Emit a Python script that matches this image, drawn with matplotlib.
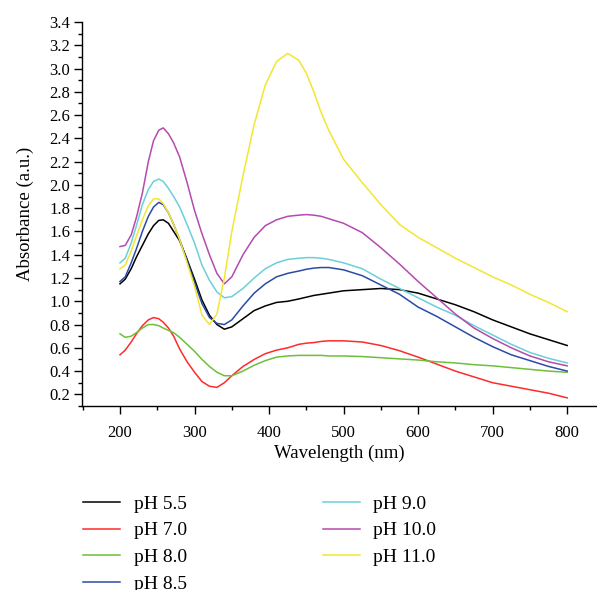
import matplotlib
matplotlib.use("Agg")
import matplotlib.pyplot as plt
from matplotlib.ticker import MultipleLocator

plt.rcParams['font.family'] = ['Liberation Serif', 'DejaVu Serif']

wavelength = [200, 207, 215, 222, 230, 238, 245, 252, 258, 265, 272, 280, 290, 300,
              310, 320, 330, 340, 350, 365, 380, 395, 410, 425, 440, 450, 460, 470, 480, 500,
              525, 550, 575, 600, 625, 650, 675, 700, 725, 750, 775, 800]

ph_5_5 = [1.15, 1.19, 1.28, 1.38, 1.48, 1.58, 1.65, 1.695, 1.70, 1.67, 1.60, 1.52, 1.36, 1.19,
          1.01, 0.88, 0.80, 0.76, 0.78, 0.85, 0.92, 0.96, 0.99, 1.00, 1.02, 1.035, 1.05, 1.06, 1.07, 1.09,
          1.10, 1.11, 1.10, 1.07, 1.02, 0.97, 0.91, 0.84, 0.78, 0.72, 0.67, 0.62]
ph_7_0 = [0.54, 0.58, 0.65, 0.72, 0.79, 0.84, 0.86, 0.85, 0.82, 0.77, 0.70, 0.59, 0.48, 0.39,
          0.31, 0.27, 0.26, 0.30, 0.36, 0.44, 0.50, 0.55, 0.58, 0.60, 0.63, 0.64, 0.645, 0.655, 0.66, 0.66,
          0.65, 0.62, 0.575, 0.52, 0.46, 0.40, 0.35, 0.30, 0.27, 0.24, 0.21, 0.17]
ph_8_0 = [0.72, 0.69, 0.70, 0.73, 0.77, 0.80, 0.80, 0.79, 0.77, 0.75, 0.73, 0.69, 0.63, 0.57,
          0.50, 0.44, 0.39, 0.36, 0.36, 0.40, 0.45, 0.49, 0.52, 0.53, 0.535, 0.535, 0.535, 0.535, 0.53, 0.53,
          0.525, 0.515, 0.505, 0.495, 0.48, 0.47, 0.455, 0.445, 0.43, 0.415, 0.40, 0.39]
ph_8_5 = [1.17, 1.21, 1.33, 1.45, 1.60, 1.73, 1.81, 1.85, 1.83, 1.76, 1.66, 1.53, 1.35, 1.16,
          0.98, 0.86, 0.81, 0.80, 0.84, 0.96, 1.07, 1.15, 1.21, 1.24, 1.26, 1.275, 1.285, 1.29, 1.29, 1.27,
          1.22, 1.14, 1.06, 0.95, 0.87, 0.78, 0.69, 0.61, 0.54, 0.49, 0.44, 0.40]
ph_9_0 = [1.33, 1.37, 1.50, 1.65, 1.83, 1.96, 2.03, 2.05, 2.03, 1.97, 1.90, 1.81, 1.66, 1.50,
          1.31, 1.18, 1.08, 1.03, 1.04, 1.11, 1.20, 1.28, 1.33, 1.36, 1.37, 1.375, 1.375, 1.37, 1.36, 1.33,
          1.28, 1.19, 1.11, 1.03, 0.95, 0.88, 0.79, 0.71, 0.63, 0.56, 0.51, 0.47]
ph_10_0 = [1.47, 1.48, 1.57, 1.72, 1.93, 2.20, 2.38, 2.47, 2.49, 2.44, 2.36, 2.24, 2.02, 1.78,
           1.58, 1.40, 1.24, 1.15, 1.21, 1.40, 1.55, 1.65, 1.70, 1.73, 1.74, 1.745, 1.74, 1.73, 1.71, 1.67,
           1.59, 1.46, 1.32, 1.17, 1.03, 0.89, 0.77, 0.68, 0.60, 0.53, 0.48, 0.445]
ph_11_0 = [1.28, 1.31, 1.43, 1.56, 1.70, 1.82, 1.88, 1.88, 1.84, 1.76, 1.66, 1.53, 1.33, 1.13,
           0.88, 0.80, 0.89, 1.20, 1.60, 2.08, 2.52, 2.86, 3.06, 3.13, 3.07, 2.96, 2.80, 2.62, 2.47, 2.22,
           2.02, 1.83, 1.66, 1.55, 1.46, 1.37, 1.29, 1.21, 1.14, 1.06, 0.99, 0.91]

labels = ["pH 5.5", "pH 7.0", "pH 8.0", "pH 8.5", "pH 9.0", "pH 10.0", "pH 11.0"]
series = [ph_5_5, ph_7_0, ph_8_0, ph_8_5, ph_9_0, ph_10_0, ph_11_0]
colors = ["#000000", "#ff2a2a", "#6cc03c", "#2a4aa8", "#6ccfd8", "#b54aae", "#f2e632"]

fig = plt.figure(figsize=(5.97, 5.90), dpi=100)
ax = fig.add_axes([82/597, 1 - 406/590, (597 - 82)/597, (406 - 22)/590])

for y, c, lab in zip(series, colors, labels):
    ax.plot(wavelength, y, color=c, lw=1.1, label=lab)

ax.set_xlim(149, 840)
ax.set_ylim(0.1, 3.4)
ax.set_xticks(range(200, 801, 100))
ax.xaxis.set_minor_locator(MultipleLocator(50))
ax.set_yticks([0.2 + 0.2*i for i in range(17)])
ax.set_yticklabels([f"{0.2 + 0.2*i:.1f}" for i in range(17)])
ax.yaxis.set_minor_locator(MultipleLocator(0.1))
for s in ["top", "right"]:
    ax.spines[s].set_visible(False)
for s in ["left", "bottom"]:
    ax.spines[s].set_linewidth(1.0)
ax.tick_params(axis='both', which='major', direction='out', length=5.5, width=1.0,
               labelsize=12)
ax.tick_params(axis='y', which='major', pad=3)
ax.tick_params(axis='x', which='major', pad=8.5)
ax.tick_params(axis='both', which='minor', direction='out', length=3, width=1.0)
ax.set_xlabel("Wavelength (nm)", fontsize=13.5, labelpad=2.5)
ax.set_ylabel("Absorbance (a.u.)", fontsize=13.5, labelpad=11)

fig.legend(loc='upper left', bbox_to_anchor=(83/597, 1 - 495/590),
           bbox_transform=fig.transFigure, ncol=2, frameon=False, fontsize=14,
           handlelength=1.9, handletextpad=0.7, columnspacing=7.0,
           labelspacing=0.47, borderpad=0, borderaxespad=0)

fig.savefig("out.png", dpi=100)
